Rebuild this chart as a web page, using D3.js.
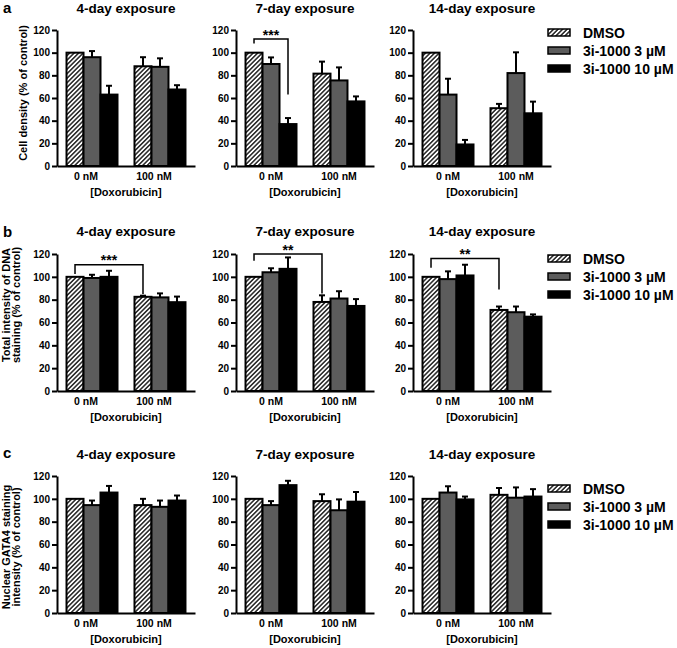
<!DOCTYPE html>
<html>
<head>
<meta charset="utf-8">
<script src="https://cdn.jsdelivr.net/npm/d3@7"></script>
<style>
  html, body { margin: 0; padding: 0; background: #fff; }
  text { font-family: "Liberation Sans", Arial, sans-serif; font-weight: bold; fill: #000; }
</style>
</head>
<body>
<script>
// ---------- data ----------
const panelLetters = ["a", "b", "c"];
const exposures = ["4-day exposure", "7-day exposure", "14-day exposure"];
const doses = ["0 nM", "100 nM"];
const series = ["DMSO", "3i-1000 3 µM", "3i-1000 10 µM"];
const yTicks = [0, 20, 40, 60, 80, 100, 120];
const xAxisTitle = "[Doxorubicin]";
const yTitles = [
  ["Cell density (% of control)"],
  ["Total intensity of DNA", "staining (% of control)"],
  ["Nuclear GATA4 staining", "intensity (% of control)"]
];

// [panel][dose][series]
const cellDensityMean = [
  [[100, 96, 63], [88, 87.5, 67.5]],
  [[100, 90, 37], [81.5, 75.5, 57]],
  [[100, 63, 19], [51, 82, 46.5]]
];
const cellDensityErr = [
  [[0, 5.4, 7.8], [8, 7.5, 3.8]],
  [[0, 5.8, 5.3], [10.6, 11.5, 4.4]],
  [[0, 14, 4], [3.8, 18.3, 10.3]]
];
const dnaMean = [
  [[100, 99, 100], [82.5, 82, 77.8]],
  [[100, 104, 107], [78, 81, 74.5]],
  [[100, 98, 101.2], [71, 69, 65.1]]
];
const dnaErr = [
  [[0, 2.8, 5.3], [1, 3.5, 4.9]],
  [[0, 3.5, 10], [5.8, 6.4, 6]],
  [[0, 6.8, 9.4], [3, 5, 2]]
];
const gata4Mean = [
  [[100, 94.5, 105.5], [94.5, 93, 98.5]],
  [[100, 94.5, 112], [98, 90, 97.5]],
  [[100, 105.5, 99.5], [103.5, 101, 102]]
];
const gata4Err = [
  [[0, 4, 5.8], [5.5, 5.5, 4.4]],
  [[0, 3.5, 3.8], [6, 9.5, 8.5]],
  [[0, 5.5, 2.5], [6, 9, 6.5]]
];
const rowMeans = [cellDensityMean, dnaMean, gata4Mean];
const rowErrs = [cellDensityErr, dnaErr, gata4Err];

// significance brackets: from/to = [doseIndex, seriesIndex]; values in data units
const brackets = [
  { row: 0, panel: 1, from: [0, 0], to: [0, 2], top: 112, leftEnd: 108, rightEnd: 63, label: "***" },
  { row: 1, panel: 0, from: [0, 0], to: [1, 0], top: 110.5, leftEnd: 102.5, rightEnd: 85, label: "***" },
  { row: 1, panel: 1, from: [0, 0], to: [1, 0], top: 120, leftEnd: 114, rightEnd: 85.5, label: "**" },
  { row: 1, panel: 2, from: [0, 0], to: [1, 0], top: 116, leftEnd: 108, rightEnd: 89, label: "**" }
];

// ---------- layout ----------
const W = 677, H = 648;
const panelX = [57, 236, 413];
const plotW = 138;
const rowTop = [30, 254, 476];
const rowBottom = [166, 391, 613];
const titleY = [13, 236, 459];
const letterY = [13, 237, 458];
const legendY = [32.5, 258.5, 488.5];
const yTitleCenter = [93, 305, 547];
const yTitleBaselines = [[27], [9.5, 19.5], [9.5, 19.5]];
const labelShift = [-6, 0, 0];
const fills = ["url(#hatch)", "#5c5c5c", "#000"];

const svg = d3.select("body").append("svg")
  .attr("width", W).attr("height", H)
  .attr("viewBox", `0 0 ${W} ${H}`);

const defs = svg.append("defs");
const pat = defs.append("pattern")
  .attr("id", "hatch")
  .attr("patternUnits", "userSpaceOnUse")
  .attr("width", 3.2).attr("height", 3.2)
  .attr("patternTransform", "rotate(45)");
pat.append("rect").attr("width", 3.2).attr("height", 3.2).attr("fill", "#fff");
pat.append("line").attr("x1", 1.6).attr("y1", 0).attr("x2", 1.6).attr("y2", 3.2)
  .attr("stroke", "#000").attr("stroke-width", 1.3);

const xBand = d3.scaleBand().domain(doses).range([0, plotW]).paddingInner(0.25).paddingOuter(0.14);
const xSub = d3.scaleBand().domain(series).range([0, xBand.bandwidth()]);
const barCenter = (di, si) => xBand(doses[di]) + xSub(series[si]) + xSub.bandwidth() / 2;

for (let r = 0; r < 3; r++) {
  const y = d3.scaleLinear().domain([0, 120]).range([rowBottom[r], rowTop[r]]);

  // panel letter
  svg.append("text").attr("x", 3).attr("y", letterY[r])
    .style("font-size", "15px").text(panelLetters[r]);

  // y-axis title
  const yt = svg.append("text")
    .attr("transform", `translate(0,${yTitleCenter[r]}) rotate(-90)`)
    .attr("text-anchor", "middle")
    .style("font-size", "11px");
  yTitles[r].forEach((line, i) => {
    yt.append("tspan").attr("x", 0).attr("y", yTitleBaselines[r][i]).text(line);
  });

  for (let p = 0; p < 3; p++) {
    const g = svg.append("g").attr("transform", `translate(${panelX[p]},0)`);
    const means = rowMeans[r][p];
    const errs = rowErrs[r][p];

    // title
    g.append("text").attr("x", plotW / 2).attr("y", titleY[r])
      .attr("text-anchor", "middle").style("font-size", "13.5px").text(exposures[p]);

    // bars
    doses.forEach((d, di) => {
      series.forEach((s, si) => {
        const v = means[di][si];
        g.append("rect")
          .attr("x", xBand(d) + xSub(s))
          .attr("y", y(v))
          .attr("width", xSub.bandwidth())
          .attr("height", y(0) - y(v))
          .attr("fill", fills[si])
          .attr("stroke", "#000")
          .attr("stroke-width", 2);
      });
    });
    // error bars
    doses.forEach((d, di) => {
      series.forEach((s, si) => {
        const v = means[di][si], e = errs[di][si];
        if (!e) return;
        const cx = barCenter(di, si);
        g.append("line").attr("x1", cx).attr("x2", cx)
          .attr("y1", y(v)).attr("y2", y(v + e))
          .attr("stroke", "#000").attr("stroke-width", 2);
        g.append("line").attr("x1", cx - 3).attr("x2", cx + 3)
          .attr("y1", y(v + e)).attr("y2", y(v + e))
          .attr("stroke", "#000").attr("stroke-width", 2);
      });
    });

    // y axis
    const ya = g.append("g")
      .call(d3.axisLeft(y).tickValues(yTicks).tickSize(5).tickSizeOuter(0).tickPadding(2));
    ya.select(".domain").attr("stroke-width", 2);
    ya.selectAll(".tick line").attr("stroke-width", 2);
    ya.selectAll(".tick text").style("font-size", "10px")
      .style("font-family", "'Liberation Sans', Arial, sans-serif").style("font-weight", "bold");

    // x axis
    const xa = g.append("g").attr("transform", `translate(0,${rowBottom[r]})`)
      .call(d3.axisBottom(xBand).tickSize(0).tickSizeOuter(0));
    xa.select(".domain").attr("stroke-width", 2);
    xa.selectAll(".tick text")
      .attr("y", 14).attr("dy", 0).attr("dx", labelShift[p])
      .style("font-size", "10.5px")
      .style("font-family", "'Liberation Sans', Arial, sans-serif").style("font-weight", "bold");

    g.append("text").attr("x", plotW / 2).attr("y", rowBottom[r] + 30)
      .attr("text-anchor", "middle").style("font-size", "11px").text(xAxisTitle);

    // brackets
    brackets.filter(b => b.row === r && b.panel === p).forEach(b => {
      const x1 = barCenter(b.from[0], b.from[1]);
      const x2 = barCenter(b.to[0], b.to[1]);
      const path = d3.path();
      path.moveTo(x1, y(b.leftEnd));
      path.lineTo(x1, y(b.top));
      path.lineTo(x2, y(b.top));
      path.lineTo(x2, y(b.rightEnd));
      g.append("path").attr("d", path.toString())
        .attr("fill", "none").attr("stroke", "#000").attr("stroke-width", 1.5);
      g.append("text").attr("x", (x1 + x2) / 2).attr("y", y(b.top) + 0.5)
        .attr("text-anchor", "middle").style("font-size", "14px").text(b.label);
    });
  }

  // legend
  const lg = svg.append("g").attr("transform", `translate(548,${legendY[r]})`);
  series.forEach((s, si) => {
    lg.append("rect").attr("x", 0).attr("y", si * 18 - 3.5)
      .attr("width", 22).attr("height", 7)
      .attr("fill", fills[si]).attr("stroke", "#000").attr("stroke-width", 1.5);
    lg.append("text").attr("x", 35).attr("y", si * 18 + 5)
      .style("font-size", "14px").text(s);
  });
}
</script>
</body>
</html>
